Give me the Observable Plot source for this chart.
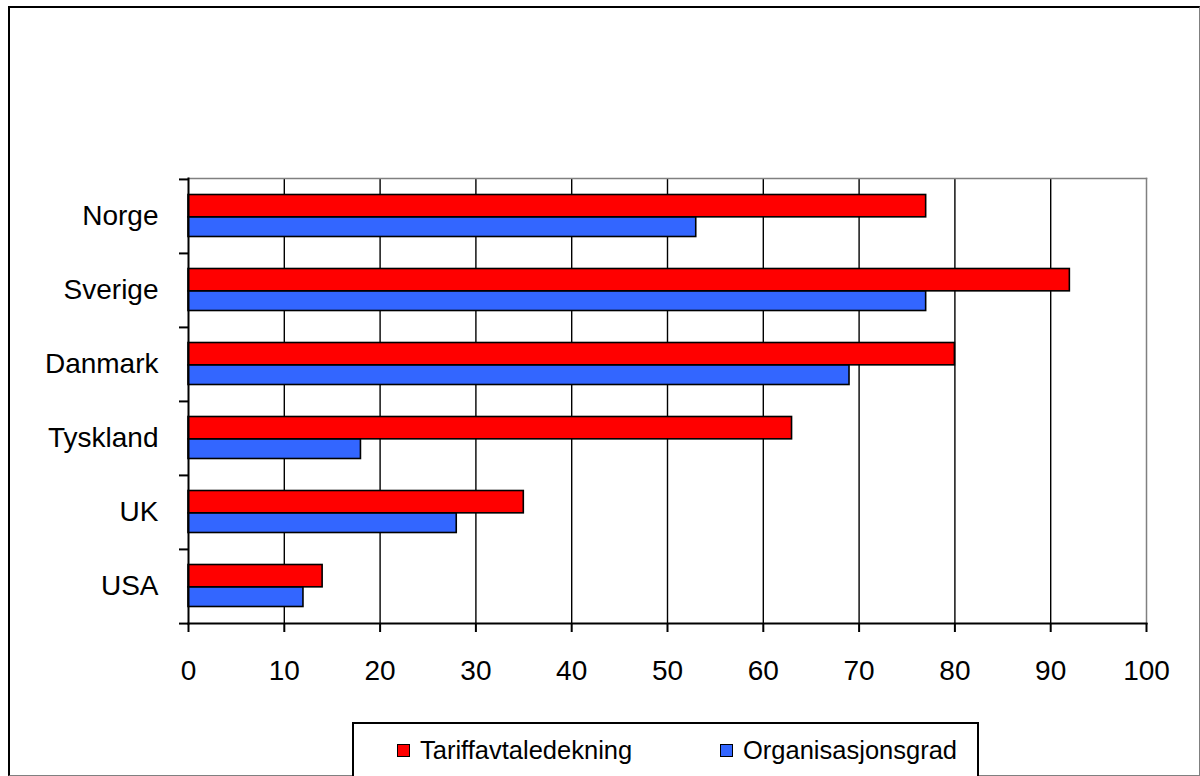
<!DOCTYPE html>
<html>
<head>
<meta charset="utf-8">
<script src="https://cdn.jsdelivr.net/npm/d3@7"></script>
<script src="https://cdn.jsdelivr.net/npm/@observablehq/plot@0.6"></script>
<style>
  html, body { margin: 0; padding: 0; background: #fff; }
  body { width: 1200px; height: 776px; position: relative; overflow: hidden; font-family: "Liberation Sans", Arial, sans-serif; }
  #outer { position: absolute; left: 8px; top: 6px; width: 1192px; height: 770px; box-sizing: border-box;
           border-top: 2px solid #000; border-left: 2px solid #000; border-right: 1px solid #808080; border-bottom: 1px solid #808080; }
  #chart { position: absolute; left: 0; top: 0; }
  #legend { position: absolute; left: 352px; top: 722px; width: 627px; height: 60px; box-sizing: border-box;
            border: 2px solid #000; background: #fff; }
  .item { position: absolute; top: 11px; font-size: 25.5px; line-height: 30px; color: #000; display: flex; align-items: center; }
  .sw { width: 11px; height: 11px; border: 1.5px solid #000; margin-right: 10px; }
</style>
</head>
<body>
<div id="outer"></div>
<div id="chart"></div>
<div id="legend"></div>
<script>
const countries = ["Norge", "Sverige", "Danmark", "Tyskland", "UK", "USA"];
const seriesNames = ["Tariffavtaledekning", "Organisasjonsgrad"];
const tariff = [77, 92, 80, 63, 35, 14];
const organisasjon = [53, 77, 69, 18, 28, 12];
const colors = ["#FF0000", "#3366FF"];
const xTicks = [0, 10, 20, 30, 40, 50, 60, 70, 80, 90, 100];

const tariffData = countries.map((c, i) => ({country: c, value: tariff[i]}));
const orgData = countries.map((c, i) => ({country: c, value: organisasjon[i]}));

const marginTop = 178, marginBottom = 77, height = 700;
const half = (height - marginTop - marginBottom) / countries.length / 2;

const chart = Plot.plot({
  width: 1200,
  height,
  marginTop,
  marginBottom,
  marginLeft: 188,
  marginRight: 54,
  style: {fontFamily: "'Liberation Sans', Arial, sans-serif", fontSize: "28px", background: "transparent", color: "#000"},
  x: {domain: [0, 100]},
  y: {domain: countries, padding: 0},
  marks: [
    Plot.ruleX(xTicks.filter(d => d > 0 && d < 100), {stroke: "#000", strokeWidth: 1.4}),
    Plot.barX(tariffData, {y: "country", x: "value", fill: colors[0], stroke: "#000", strokeWidth: 1.6,
      insetTop: 15.5, insetBottom: 2 * half - 38}),
    Plot.barX(orgData, {y: "country", x: "value", fill: colors[1], stroke: "#000", strokeWidth: 1.6,
      insetTop: 38, insetBottom: 16.5}),
    Plot.frame({anchor: "top", stroke: "#808080", strokeWidth: 1.5}),
    Plot.frame({anchor: "right", stroke: "#808080", strokeWidth: 1.5}),
    Plot.frame({anchor: "left", stroke: "#000", strokeWidth: 2}),
    Plot.frame({anchor: "bottom", stroke: "#000", strokeWidth: 2}),
    Plot.axisX(xTicks, {tickSize: 9, tickPadding: 28, strokeWidth: 2, label: null, fontSize: 28}),
    Plot.axisY({tickSize: 0, tickPadding: 30, label: null, fontSize: 28}),
    Plot.axisY({tickSize: 9, strokeWidth: 2, tickFormat: () => "", label: null, dy: -half}),
    Plot.axisY([countries[countries.length - 1]], {tickSize: 9, strokeWidth: 2, tickFormat: () => "", label: null, dy: half})
  ]
});
document.getElementById("chart").appendChild(chart);

const legend = document.getElementById("legend");
const lefts = [43, 366];
seriesNames.forEach((name, i) => {
  const item = document.createElement("div");
  item.className = "item";
  item.style.left = lefts[i] + "px";
  const sw = document.createElement("span");
  sw.className = "sw";
  sw.style.background = colors[i];
  const t = document.createElement("span");
  t.textContent = name;
  item.appendChild(sw);
  item.appendChild(t);
  legend.appendChild(item);
});
</script>
</body>
</html>
